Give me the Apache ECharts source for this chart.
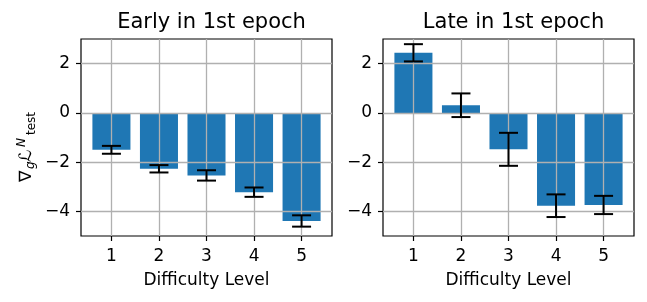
<!DOCTYPE html>
<html>
<head>
<meta charset="utf-8">
<script src="https://cdn.jsdelivr.net/npm/echarts@6/dist/echarts.min.js"></script>
<style>html,body{margin:0;padding:0;background:#fff}#c{width:647px;height:302px}</style>
</head>
<body>
<div id="c"></div>
<script>
// ---- data ----
const levels = [1, 2, 3, 4, 5];
const xTicks = [1, 2, 3, 4, 5];
const yTicks = [-4, -2, 0, 2];
const titles = ['Early in 1st epoch', 'Late in 1st epoch'];
const earlyMean = [-1.50, -2.27, -2.54, -3.22, -4.39];
const earlyErr  = [0.16, 0.15, 0.21, 0.19, 0.23];
const lateMean  = [2.44, 0.31, -1.48, -3.77, -3.74];
const lateErr   = [0.35, 0.48, 0.67, 0.46, 0.37];
const xLabel = 'Difficulty Level';

const font = 'DejaVu Sans';
const chart = echarts.init(document.getElementById('c'), null, {renderer: 'canvas'});

const grids = [
  {left: 81, top: 39, width: 251, height: 197},
  {left: 383, top: 39, width: 251, height: 197}
];

function xAxis(i) {
  return {
    gridIndex: i, type: 'value', min: 0.36, max: 5.64, z: 3, position: 'bottom',
    axisLine: {show: false, onZero: false},
    axisTick: {show: true, inside: false, length: 5, customValues: xTicks, lineStyle: {color: '#000', width: 1.2}},
    axisLabel: {customValues: xTicks, margin: 12, color: '#000', fontFamily: font, fontSize: 17},
    splitLine: {show: true, lineStyle: {color: '#b0b0b0', width: 1.3}},
    name: xLabel, nameLocation: 'middle', nameGap: 36,
    nameTextStyle: {color: '#000', fontFamily: font, fontSize: 17}
  };
}
function yAxis(i) {
  return {
    gridIndex: i, type: 'value', min: -5, max: 3, z: 3, position: 'left',
    axisLine: {show: false, onZero: false},
    axisTick: {show: true, inside: false, length: 5, customValues: yTicks, lineStyle: {color: '#000', width: 1.2}},
    axisLabel: {customValues: yTicks, margin: 11, color: '#000', fontFamily: font, fontSize: 17,
      formatter: v => (v < 0 ? '\u2212' + Math.abs(v) : String(v))},
    splitLine: {show: true, lineStyle: {color: '#b0b0b0', width: 1.3}}
  };
}

function barSeries(i, vals) {
  return {
    type: 'bar', xAxisIndex: i, yAxisIndex: i, z: 2,
    barWidth: '80%',
    itemStyle: {color: '#1f77b4'},
    data: levels.map((x, k) => [x, vals[k]])
  };
}
function errSeries(i, vals, errs) {
  return {
    type: 'custom', xAxisIndex: i, yAxisIndex: i, z: 5,
    data: levels.map((x, k) => [x, vals[k] - errs[k], vals[k] + errs[k]]),
    renderItem: function (params, api) {
      const lo = api.coord([api.value(0), api.value(1)]);
      const hi = api.coord([api.value(0), api.value(2)]);
      const hw = 9.5;
      const st = {stroke: '#000', lineWidth: 2};
      return {type: 'group', children: [
        {type: 'line', shape: {x1: lo[0], y1: lo[1], x2: hi[0], y2: hi[1]}, style: st},
        {type: 'line', shape: {x1: lo[0] - hw, y1: lo[1], x2: lo[0] + hw, y2: lo[1]}, style: st},
        {type: 'line', shape: {x1: hi[0] - hw, y1: hi[1], x2: hi[0] + hw, y2: hi[1]}, style: st}
      ]};
    }
  };
}

const sub = 12, main = 17;
const option = {
  animation: false,
  backgroundColor: '#fff',
  title: [
    {text: titles[0], left: 206.5, top: 7, textAlign: 'center',
     textStyle: {fontFamily: font, fontSize: 21, fontWeight: 'normal', color: '#000'}},
    {text: titles[1], left: 508.5, top: 7, textAlign: 'center',
     textStyle: {fontFamily: font, fontSize: 21, fontWeight: 'normal', color: '#000'}}
  ],
  grid: grids.map(g => Object.assign({show: true, borderColor: '#000', borderWidth: 1.2, backgroundColor: 'transparent'}, g)),
  xAxis: [xAxis(0), xAxis(1)],
  yAxis: [yAxis(0), yAxis(1)],
  series: [
    barSeries(0, earlyMean), errSeries(0, earlyMean, earlyErr),
    barSeries(1, lateMean), errSeries(1, lateMean, lateErr)
  ],
  graphic: [{
    type: 'group', x: 27, y: 182, rotation: Math.PI / 2,
    children: [
      {type: 'text', x: 0, y: 0, style: {text: '\u2207', fontFamily: font, fontSize: main, fill: '#000', verticalAlign: 'middle'}},
      {type: 'text', x: 13, y: 4, style: {text: 'g', fontFamily: font, fontStyle: 'italic', fontSize: sub, fill: '#000', verticalAlign: 'middle'}},
      {type: 'text', x: 20, y: 0, style: {text: '\u2112', fontFamily: font, fontStyle: 'italic', fontSize: main, fill: '#000', verticalAlign: 'middle'}},
      {type: 'text', x: 35, y: -5, style: {text: 'N', fontFamily: font, fontStyle: 'italic', fontSize: sub, fill: '#000', verticalAlign: 'middle'}},
      {type: 'text', x: 47, y: 5, style: {text: 'test', fontFamily: font, fontSize: sub, fill: '#000', verticalAlign: 'middle'}}
    ]
  }]
};
chart.setOption(option);
</script>
</body>
</html>
